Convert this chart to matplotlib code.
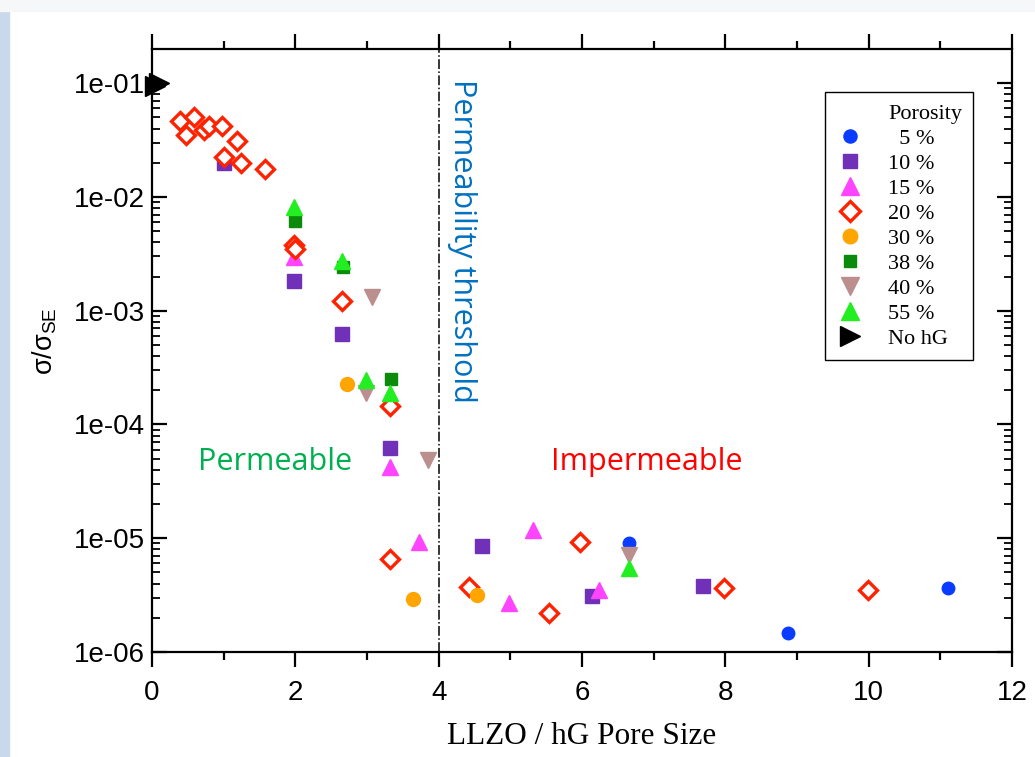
import matplotlib.pyplot as plt
from matplotlib.lines import Line2D
from matplotlib.patches import Rectangle
import numpy as np

plt.rcParams['mathtext.fontset'] = 'custom'
plt.rcParams['mathtext.rm'] = 'Liberation Sans'
plt.rcParams['mathtext.it'] = 'Liberation Sans'

# porosity series: (pore size ratio, sigma/sigma_SE)
p05_x = [6.66, 8.87, 11.1]
p05_y = [9.1e-6, 1.48e-6, 3.66e-6]

p10_x = [1.0, 1.98, 2.65, 3.32, 4.6, 6.14, 7.69]
p10_y = [0.020, 1.83e-3, 6.3e-4, 6.2e-5, 8.5e-6, 3.1e-6, 3.8e-6]

p15_x = [1.98, 3.32, 3.72, 5.32, 4.98, 6.24]
p15_y = [2.95e-3, 4.2e-5, 9.3e-6, 1.17e-5, 2.7e-6, 3.5e-6]

p20_x = [0.39, 0.47, 0.59, 0.73, 0.80, 0.98, 1.0, 1.19, 1.24, 1.58,
         1.98, 2.0, 2.65, 3.32, 3.32, 4.42, 5.54, 5.97, 7.98, 9.99]
p20_y = [0.047, 0.035, 0.050, 0.039, 0.042, 0.042, 0.0225, 0.031, 0.0197, 0.0178,
         3.8e-3, 3.5e-3, 1.22e-3, 1.45e-4, 6.6e-6, 3.7e-6, 2.2e-6, 9.3e-6, 3.65e-6, 3.5e-6]

p30_x = [2.72, 3.64, 4.54]
p30_y = [2.26e-4, 2.9e-6, 3.2e-6]

p38_x = [2.0, 2.66, 3.33]
p38_y = [6.2e-3, 2.4e-3, 2.5e-4]

p40_x = [3.07, 2.99, 3.85, 6.66]
p40_y = [1.32e-3, 1.9e-4, 4.9e-5, 7.1e-6]

p55_x = [1.98, 2.65, 2.99, 3.32, 6.66]
p55_y = [8.2e-3, 2.75e-3, 2.46e-4, 1.88e-4, 5.5e-6]

nohg_x = [0.04, 0.1]
nohg_y = [0.095, 0.1]

threshold = 4.0

fig = plt.figure(figsize=(10.35, 7.57), dpi=100)
fig.patches.append(Rectangle((0, 0), 9 / 1035, 1, transform=fig.transFigure,
                             color='#c9d8ea', zorder=0))
fig.patches.append(Rectangle((0, 1 - 11 / 757), 1, 11 / 757, transform=fig.transFigure,
                             color='#f6f7f9', zorder=0))
ax = fig.add_axes([152 / 1035, 1 - 652 / 757, 860 / 1035, 603 / 757])

ax.plot(p05_x, p05_y, 'o', color='#0a3cff', ms=9, ls='none', label='  5 %')
ax.plot(p10_x, p10_y, 's', color='#7030b8', ms=9.5, ls='none', label='10 %')
ax.plot(p15_x, p15_y, '^', color='#ff44ff', ms=12, ls='none', label='15 %')
ax.plot(p20_x, p20_y, 'D', mfc='white', mec='#ff2200', mew=2.4, ms=9.5, ls='none', label='20 %')
ax.plot(p30_x, p30_y, 'o', color='#ffa500', ms=10, ls='none', label='30 %')
ax.plot(p38_x, p38_y, 's', color='#0b8a0b', ms=8.5, ls='none', label='38 %')
ax.plot(p40_x, p40_y, 'v', color='#bc8f8f', ms=12, ls='none', label='40 %')
ax.plot(p55_x, p55_y, '^', color='#22ee22', ms=12, ls='none', label='55 %')
ax.plot(nohg_x, nohg_y, '>', color='black', ms=14, ls='none', label='No hG', clip_on=False)

ax.axvline(threshold, color='black', ls='-.', lw=1.1)

ax.set_yscale('log')
ax.set_xlim(0, 12)
ax.set_ylim(1e-6, 0.2)
ax.set_xticks(range(0, 13, 2))
ax.set_xticks(range(1, 12, 2), minor=True)
ax.set_yticks([1e-6, 1e-5, 1e-4, 1e-3, 1e-2, 1e-1])
ax.yaxis.set_major_formatter(plt.FuncFormatter(lambda v, p: f'{v:.0e}'))

for s in ax.spines.values():
    s.set_linewidth(1.6)
ax.tick_params(axis='x', which='both', direction='out', top=True, bottom=True,
               width=1.6, labelsize=20, pad=9.5)
ax.tick_params(axis='x', which='major', length=11)
ax.tick_params(axis='x', which='minor', length=6)
ax.tick_params(axis='y', which='both', direction='in', left=True, right=True,
               width=1.6, labelsize=20, pad=5)
ax.tick_params(axis='y', which='major', length=11)
ax.tick_params(axis='y', which='minor', length=6, width=1.3)
for lab in ax.get_xticklabels() + ax.get_yticklabels():
    lab.set_fontfamily('Liberation Sans')

ax.set_xlabel('LLZO / hG Pore Size', fontfamily='Liberation Serif', fontsize=22.5, labelpad=11)
ax.set_ylabel(r'$\sigma/\sigma_{\rm SE}$', fontsize=19.5)
ax.yaxis.set_label_coords(-0.108, 0.515)

ax.text(4.33, 0.95, 'Permeability threshold', transform=ax.get_xaxis_transform(),
        rotation=-90, ha='center', va='top', color='#0070c0', fontsize=22,
        fontfamily='Open Sans')
ax.text(1.72, 4.7e-5, 'Permeable', ha='center', va='center', color='#00b050',
        fontsize=22, fontfamily='Open Sans')
ax.text(6.9, 4.7e-5, 'Impermeable', ha='center', va='center', color='#ff0000',
        fontsize=22, fontfamily='Open Sans')

handles, labels = ax.get_legend_handles_labels()
blank = Line2D([], [], ls='none', marker='none')
leg = ax.legend([blank] + handles, ['Porosity'] + labels, loc='upper right',
                bbox_to_anchor=((973 - 152) / 860, 1 - (92 - 49) / 603),
                borderaxespad=0, fancybox=False, edgecolor='black', framealpha=1,
                prop={'family': 'Liberation Serif', 'size': 16},
                labelspacing=0.2, handlelength=1.26, handletextpad=1.08,
                borderpad=0.5, markerscale=1.05, numpoints=1)
leg.get_frame().set_linewidth(1.0)

fig.savefig('out.png', dpi=100)
